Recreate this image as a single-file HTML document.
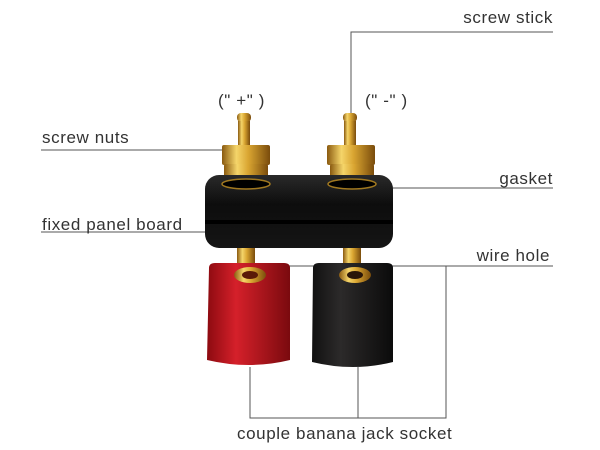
<!DOCTYPE html>
<html><head><meta charset="utf-8"><style>
html,body{margin:0;padding:0;background:#fff;width:600px;height:450px;overflow:hidden}
svg text{font-family:"Liberation Sans",sans-serif;font-size:17px;letter-spacing:0.6px;fill:#333}
</style></head><body>
<svg width="600" height="450" viewBox="0 0 600 450" xmlns="http://www.w3.org/2000/svg">
<defs>
<linearGradient id="gold" x1="0" x2="1" y1="0" y2="0">
<stop offset="0" stop-color="#8a5a10"/><stop offset="0.3" stop-color="#f5d56a"/><stop offset="0.55" stop-color="#d9a531"/><stop offset="1" stop-color="#7a4c0c"/></linearGradient>
<linearGradient id="red" x1="0" x2="1"><stop offset="0" stop-color="#8c0a10"/><stop offset="0.35" stop-color="#d5202a"/><stop offset="1" stop-color="#7a0a0e"/></linearGradient>
<linearGradient id="blk" x1="0" x2="1"><stop offset="0" stop-color="#111"/><stop offset="0.35" stop-color="#2c2a2a"/><stop offset="1" stop-color="#0b0b0b"/></linearGradient>
<linearGradient id="board" x1="0" x2="0" y1="0" y2="1"><stop offset="0" stop-color="#2a2a2a"/><stop offset="0.4" stop-color="#0d0d0d"/><stop offset="1" stop-color="#151515"/></linearGradient>
</defs>
<g stroke="#555" stroke-width="1" fill="none">
<polyline points="351,128 351,32 553,32"/>
<line x1="41" y1="150" x2="222" y2="150"/>
<line x1="380" y1="188" x2="553" y2="188"/>
<line x1="41" y1="232" x2="205" y2="232"/>
<line x1="262" y1="266" x2="553" y2="266"/>
<polyline points="446,266 446,418 250,418 250,367"/>
<line x1="358" y1="367" x2="358" y2="418"/>
</g>
<g>
<rect x="237" y="113" width="14" height="9" rx="4" fill="url(#gold)"/>
<rect x="238" y="121" width="12" height="26" fill="url(#gold)"/>
<rect x="222" y="145" width="48" height="20" rx="2" fill="url(#gold)"/>
<rect x="224" y="164" width="44" height="16" rx="2" fill="url(#gold)"/>
<rect x="343" y="113" width="14" height="9" rx="4" fill="url(#gold)"/>
<rect x="344" y="121" width="12" height="26" fill="url(#gold)"/>
<rect x="327" y="145" width="48" height="20" rx="2" fill="url(#gold)"/>
<rect x="330" y="164" width="44" height="16" rx="2" fill="url(#gold)"/>
</g>
<rect x="205" y="175" width="188" height="73" rx="14" fill="url(#board)"/>
<rect x="205" y="220" width="188" height="4" fill="#000"/>
<ellipse cx="246" cy="184" rx="24" ry="5" fill="#000" stroke="#a07820" stroke-width="1.5"/>
<ellipse cx="352" cy="184" rx="24" ry="5" fill="#000" stroke="#a07820" stroke-width="1.5"/>
<rect x="237" y="248" width="18" height="20" fill="url(#gold)"/>
<rect x="343" y="248" width="18" height="20" fill="url(#gold)"/>
<path d="M209,268 Q209,263 215,263 L284,263 Q290,263 290,268 L290,360 Q249,370 207,360 Z" fill="url(#red)"/>
<path d="M313,268 Q313,263 319,263 L387,263 Q393,263 393,268 L393,362 Q353,372 312,362 Z" fill="url(#blk)"/>
<ellipse cx="250" cy="275" rx="16" ry="8" fill="url(#gold)"/>
<ellipse cx="250" cy="275" rx="8" ry="4" fill="#5a1a08"/>
<ellipse cx="355" cy="275" rx="16" ry="8" fill="url(#gold)"/>
<ellipse cx="355" cy="275" rx="8" ry="4" fill="#2a1608"/>
<text x="553" y="23" text-anchor="end">screw stick</text>
<text x="218" y="106">("  +" )</text>
<text x="365" y="106">("  -" )</text>
<text x="42" y="143">screw nuts</text>
<text x="553" y="184" text-anchor="end">gasket</text>
<text x="42" y="230">fixed panel board</text>
<text x="550" y="261" text-anchor="end">wire hole</text>
<text x="237" y="439">couple banana jack socket</text>
</svg>
</body></html>
